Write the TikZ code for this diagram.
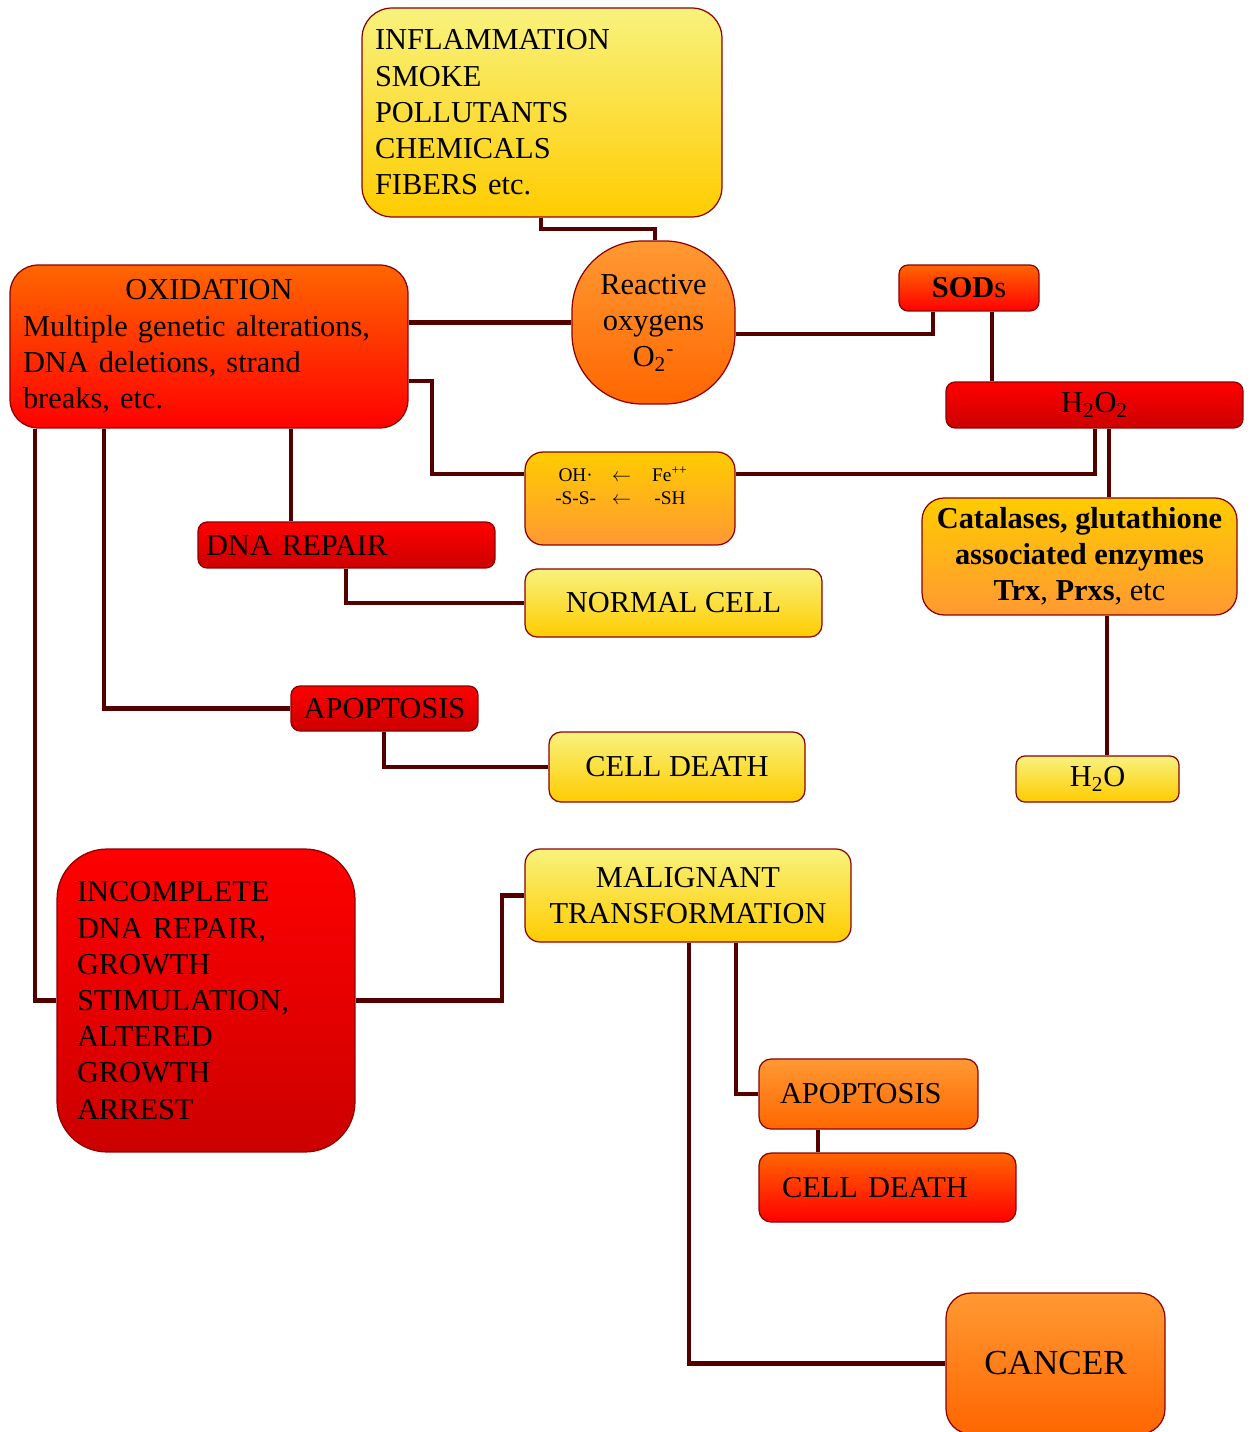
\documentclass[tikz,border=0pt]{standalone}
\usepackage{fontspec}
\setmainfont{Liberation Serif}
\usepackage{tikz}
\usetikzlibrary{calc}
\definecolor{cyelA}{RGB}{248,242,125}
\definecolor{cyelB}{RGB}{255,204,0}
\definecolor{cambB}{RGB}{255,153,51}
\definecolor{corgB}{RGB}{255,102,0}
\definecolor{credA}{RGB}{255,0,0}
\definecolor{credB}{RGB}{204,0,0}
\definecolor{cedge}{RGB}{140,0,0}
\definecolor{clink}{RGB}{85,0,0}
\newcommand{\bigtxt}{\fontsize{17.3}{20.6}\selectfont}
\newcommand{\smalltxt}{\fontsize{11}{13}\selectfont}
\tikzset{
  blk/.style={rectangle,rounded corners=0.18cm,draw=cedge,line width=0.7pt,
    inner sep=0pt,align=center,font=\bigtxt},
  % fills: yellow, amber, orange, orange-red, red
  yel/.style={top color=cyelA,bottom color=cyelB},
  amb/.style={top color=cyelB,bottom color=cambB},
  org/.style={top color=cambB,bottom color=corgB},
  ord/.style={top color=corgB,bottom color=credA},
  rd/.style={top color=credA,bottom color=credB},
  link/.style={draw=clink,line width=2.8pt}
}

\begin{document}
\begin{tikzpicture}[x=0.02cm,y=-0.02cm]
  \useasboundingbox (0,0) rectangle (1250,1432);
  \clip (0,0) rectangle (1250,1432);
  % boxes
  \node[blk,yel,rounded corners=0.6cm,minimum width=7.2cm,minimum height=4.18cm,
    text width=6.68cm,inner xsep=0.26cm,align=left] (src) at (542,112.5)
    {INFLAMMATION\\SMOKE\\POLLUTANTS\\CHEMICALS\\FIBERS etc.};
  \node[blk,org,rounded corners=1.4cm,minimum width=3.26cm,minimum height=3.26cm] (ros) at (653.5,322.5)
    {Reactive\\oxygens\\O\textsubscript{2}\textsuperscript{-}};
  \node[blk,ord,rounded corners=0.56cm,minimum width=7.96cm,minimum height=3.26cm,
    text width=7.44cm,inner xsep=0.26cm,align=left] (oxi) at (209,346.5)
    {{\centering OXIDATION\par}Multiple genetic alterations,\\DNA deletions, strand\\breaks, etc.};
  \node[blk,ord,minimum width=2.8cm,minimum height=0.92cm] (sods) at (969,288) {\textbf{SOD}s};
  \node[blk,rd,minimum width=5.94cm,minimum height=0.92cm] (h2o2) at (1094.5,405)
    {H\textsubscript{2}O\textsubscript{2}};
  \node[blk,amb,rounded corners=0.36cm,minimum width=4.2cm,minimum height=1.86cm,font=\smalltxt,
    text height=0.5cm,text depth=0.7cm] (ohfe) at (630,498.5)
    {\begin{tabular}{@{}c@{\hspace{9pt}}c@{\hspace{12pt}}c@{}}
      OH· & $\leftarrow$ & Fe\textsuperscript{++}\\
      -S-S- & $\leftarrow$ & -SH
    \end{tabular}\hspace*{0.34cm}};
  \node[blk,amb,rounded corners=0.44cm,minimum width=6.3cm,minimum height=2.34cm] (cat) at (1079.5,556.5)
    {\textbf{Catalases, glutathione}\\\textbf{associated enzymes}\\\textbf{Trx}, \textbf{Prxs}, etc};
  \node[blk,rd,minimum width=5.94cm,minimum height=0.92cm,
    text width=5.62cm,inner xsep=0.16cm,align=left] (dnarep) at (346.5,545) {DNA REPAIR};
  \node[blk,yel,rounded corners=0.24cm,minimum width=5.94cm,minimum height=1.36cm] (normal) at (673.5,603) {NORMAL CELL};
  \node[blk,rd,minimum width=3.74cm,minimum height=0.9cm] (apopA) at (384.5,708.5) {APOPTOSIS};
  \node[blk,yel,rounded corners=0.24cm,minimum width=5.12cm,minimum height=1.4cm] (deathA) at (677,767) {CELL DEATH};
  \node[blk,yel,minimum width=3.26cm,minimum height=0.92cm] (h2o) at (1097.5,779) {H\textsubscript{2}O};
  \node[blk,rd,rounded corners=1.0cm,minimum width=5.96cm,minimum height=6.06cm,
    text width=5.16cm,inner xsep=0.4cm,align=left] (incomp) at (206,1000.5)
    {INCOMPLETE\\DNA REPAIR,\\GROWTH\\STIMULATION,\\ALTERED\\GROWTH\\ARREST};
  \node[blk,yel,rounded corners=0.3cm,minimum width=6.52cm,minimum height=1.86cm] (malig) at (688,895.5)
    {MALIGNANT\\TRANSFORMATION};
  \node[blk,org,rounded corners=0.24cm,minimum width=4.38cm,minimum height=1.4cm,
    text width=3.54cm,inner xsep=0.42cm,align=left] (apopB) at (868.5,1094) {APOPTOSIS};
  \node[blk,ord,rounded corners=0.24cm,minimum width=5.14cm,minimum height=1.38cm,
    text width=4.22cm,inner xsep=0.46cm,align=left] (deathB) at (887.5,1187.5) {CELL DEATH};
  \node[blk,org,rounded corners=0.5cm,minimum width=4.38cm,minimum height=2.82cm,
    font=\fontsize{20}{24}\selectfont] (cancer) at (1055.5,1363.5) {CANCER};
  % connectors
  \draw[link] (541,0 |- src.south) |- (655,229) -- (655,0 |- ros.north);
  \draw[link] (oxi.east |- ros.west) -- (ros.west);
  \draw[link] (ros.east |- 0,334) -| (933,0 |- sods.south);
  \draw[link] (992,0 |- sods.south) -- (992,0 |- h2o2.north);
  \draw[link] (oxi.east |- 0,381) -| (432,474) -- (ohfe.west |- 0,474);
  \draw[link] (ohfe.east |- 0,474) -| (1095,0 |- h2o2.south);
  \draw[link] (1109,0 |- h2o2.south) -- (1109,0 |- cat.north);
  \draw[link] (1107,0 |- cat.south) -- (1107,0 |- h2o.north);
  \draw[link] (291,0 |- oxi.south) -- (291,0 |- dnarep.north);
  \draw[link] (346,0 |- dnarep.south) |- (normal.west);
  \draw[link] (104,0 |- oxi.south) |- (apopA.west);
  \draw[link] (384,0 |- apopA.south) |- (deathA.west);
  \draw[link] (35,0 |- oxi.south) |- (incomp.west);
  \draw[link] (incomp.east) -| (502,0 |- malig.west) -- (malig.west);
  \draw[link] (736,0 |- malig.south) |- (apopB.west);
  \draw[link] (818,0 |- apopB.south) -- (818,0 |- deathB.north);
  \draw[link] (689,0 |- malig.south) |- (cancer.west);
\end{tikzpicture}
\end{document}
